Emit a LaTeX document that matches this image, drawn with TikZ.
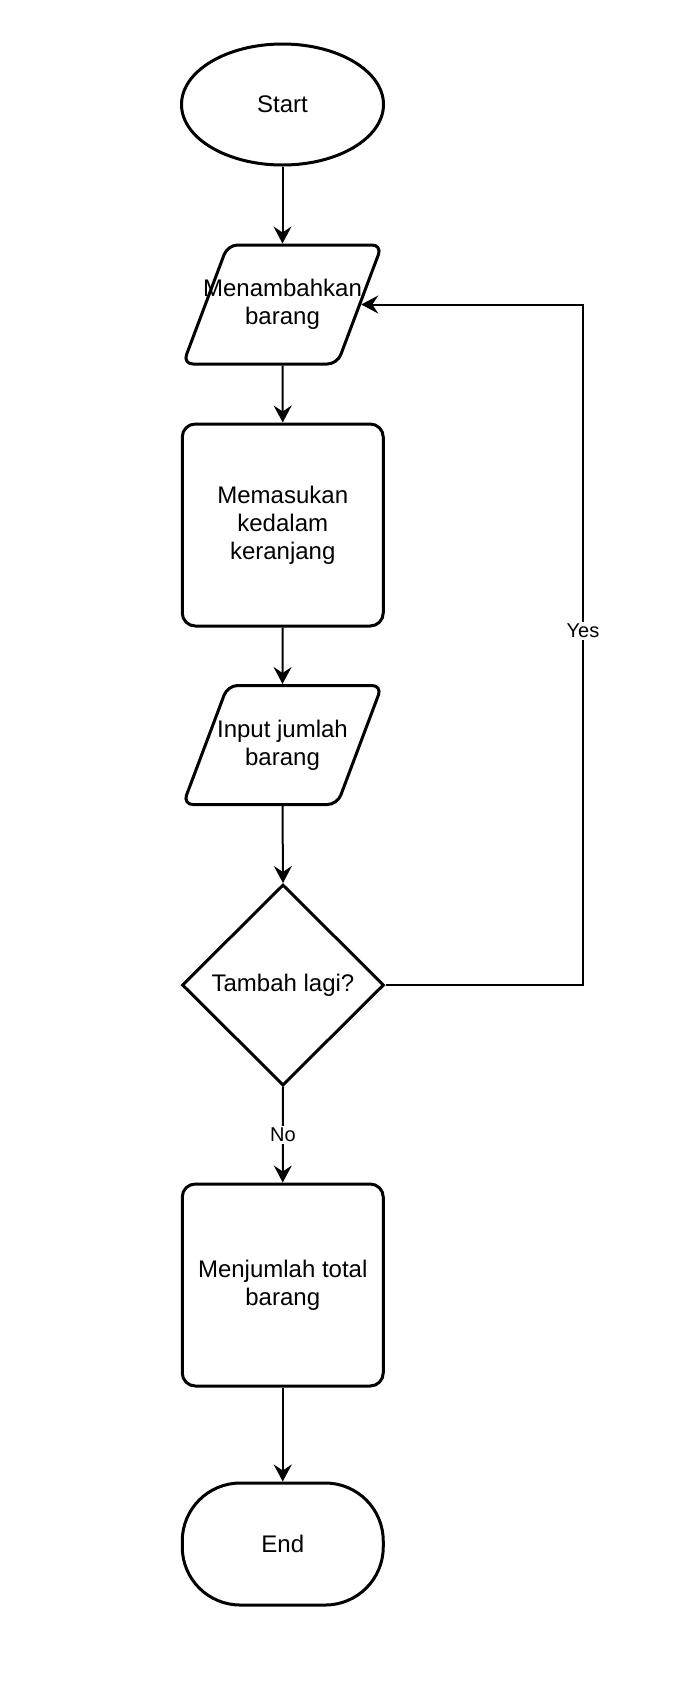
\documentclass[tikz,border=0pt]{standalone}
\usepackage{fontspec}
\setmainfont{Liberation Sans}
\usetikzlibrary{shapes.geometric,arrows.meta}
\begin{document}
\begin{tikzpicture}[x=0.5pt,y=-0.5pt,
  shp/.style={draw=black, line width=1.5pt, fill=white, inner sep=0pt, align=center, font=\fontsize{12}{14}\selectfont},
  term/.style={shp, ellipse, minimum width=101pt, minimum height=60.5pt},
  endterm/.style={shp, rectangle, rounded corners=29pt, minimum width=100.5pt, minimum height=61pt},
  proc/.style={shp, rectangle, rounded corners=6.5pt, minimum width=100.5pt, minimum height=101pt},
  io/.style={shp, trapezium, trapezium left angle=69.3, trapezium right angle=110.7, trapezium stretches body=true, inner ysep=17pt, inner xsep=-12.5pt, rounded corners=5pt, minimum width=99.5pt, minimum height=59.5pt},
  dec/.style={shp, diamond, minimum width=101pt, minimum height=100.5pt},
  conn/.style={line width=1pt, -{Stealth[length=8.5pt,width=9pt,inset=3pt]}},
  lbl/.style={fill=white, inner sep=1pt, font=\fontsize{10}{12}\selectfont}]
\fill[white] (0,0) rectangle (675,1682);
\useasboundingbox (0,0) rectangle (675,1682);

\node[term] (start) at (282.5,104.5) {Start};
\node[io] (in1) at (282.5,304.5) {Menambahkan\\barang};
\node[proc] (r1) at (282.75,525) {Memasukan\\kedalam\\keranjang};
\node[io] (in2) at (282.5,745) {Input jumlah\\barang};
\node[dec] (dec) at (283,985) {Tambah lagi?};
\node[proc] (r2) at (282.75,1285) {Menjumlah total\\barang};
\node[endterm] (end) at (282.75,1544) {End};
\coordinate (loop) at (583,985);

\draw[conn] (start.south) -- (in1.north);
\draw[conn] (in1.south) -- (r1.north);
\draw[conn] (r1.south) -- (in2.north);
\draw[conn] (in2.south) -- (dec.north);
\draw[conn] (dec.south) -- node[lbl] {No} (r2.north);
\draw[conn] (r2.south) -- (end.north);
\draw[conn] (dec.east) -- (loop) |- node[lbl, pos=0.26] {Yes} (in1.east);
\end{tikzpicture}
\end{document}
